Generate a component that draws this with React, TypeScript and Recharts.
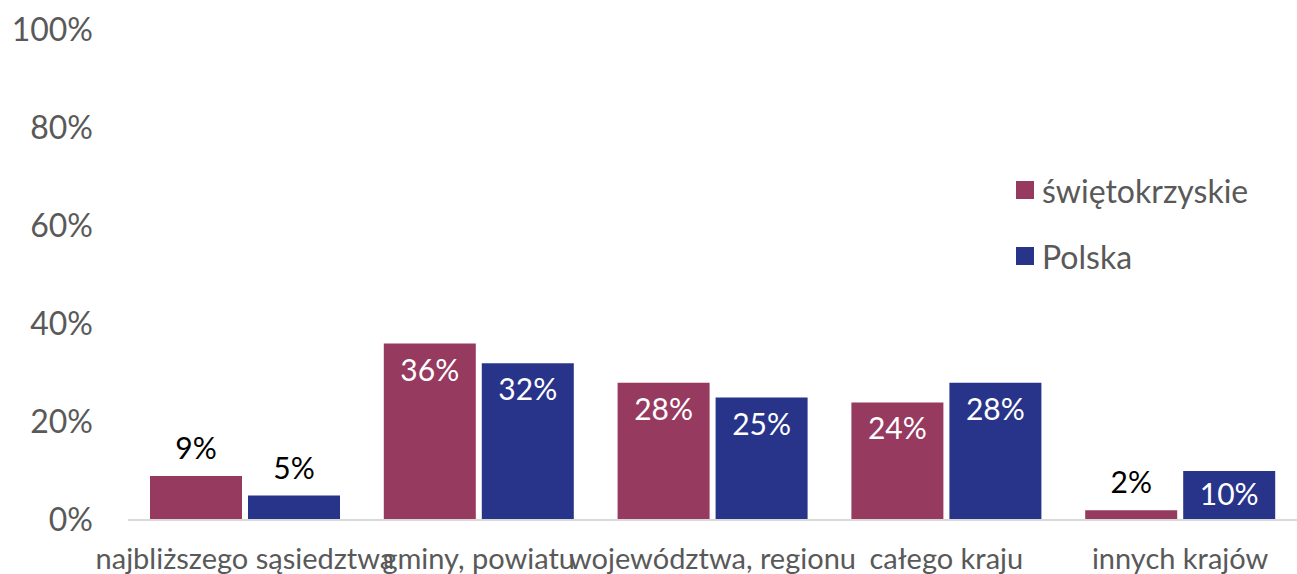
import React from 'react';
import { BarChart, Bar, XAxis, YAxis } from 'recharts';

const categories = ['najbliższego sąsiedztwa', 'gminy, powiatu', 'województwa, regionu', 'całego kraju', 'innych krajów'];
const swietokrzyskie = [9, 36, 28, 24, 2];
const polska = [5, 32, 25, 28, 10];
const yTicks = [0, 20, 40, 60, 80, 100];
const seriesNames = ['świętokrzyskie', 'Polska'];

const data = categories.map((name, i) => ({ name, swk: swietokrzyskie[i], pl: polska[i] }));

const FONT = 'Lato, "Open Sans", sans-serif';
const MAROON = '#963A60';
const NAVY = '#28348A';
const seriesColors = [MAROON, NAVY];

const BarLabel = (props: any) => {
    const { x, y, width, height, value } = props;
    const cx = x + width / 2;
    if (value < 10) {
        return (
            <text x={cx} y={y - 29} textAnchor="middle" dominantBaseline="central" fill="#000" fontSize={30} fontFamily={FONT}>
                {value}%
            </text>
        );
    }
    const cy = height > 60 ? y + 25 : y + height / 2 - 3;
    return (
        <text x={cx} y={cy} textAnchor="middle" dominantBaseline="central" fill="#fff" fontSize={30} fontFamily={FONT}>
            {value}%
        </text>
    );
};

const App: React.FC = () => {
    return (
        <div style={{ position: 'absolute', left: 0, top: 0, width: 1297, height: 574, background: '#fff' }}>
            <BarChart
                width={1297}
                height={574}
                data={data}
                margin={{ top: 30, right: 0, left: 0, bottom: 24 }}
                barSize={92}
                barGap={6}
            >
                <XAxis
                    dataKey="name"
                    interval={0}
                    height={30}
                    tickLine={false}
                    tickSize={0}
                    tickMargin={28}
                    stroke="#d9d9d9"
                    strokeWidth={2}
                    tick={{ fill: '#595959', fontSize: 29, fontFamily: FONT }}
                />
                <YAxis
                    domain={[0, 100]}
                    ticks={yTicks}
                    width={128}
                    axisLine={false}
                    tickLine={false}
                    tickSize={0}
                    tickMargin={35}
                    tickFormatter={(v) => `${v}%`}
                    tick={{ fill: '#595959', fontSize: 32, fontFamily: FONT }}
                />
                <Bar dataKey="swk" name={seriesNames[0]} fill={MAROON} isAnimationActive={false} label={<BarLabel />} />
                <Bar dataKey="pl" name={seriesNames[1]} fill={NAVY} isAnimationActive={false} label={<BarLabel />} />
            </BarChart>
            {/* legend */}
            <div style={{ position: 'absolute', left: 1016, top: 157, fontFamily: FONT }}>
                {seriesNames.map((n, i) => (
                    <div key={n} style={{ display: 'flex', alignItems: 'center', height: 66 }}>
                        <div style={{ width: 18, height: 18, background: seriesColors[i], marginRight: 8 }} />
                        <span style={{ fontSize: 32, color: '#595959' }}>{n}</span>
                    </div>
                ))}
            </div>
        </div>
    );
};

export default App;
